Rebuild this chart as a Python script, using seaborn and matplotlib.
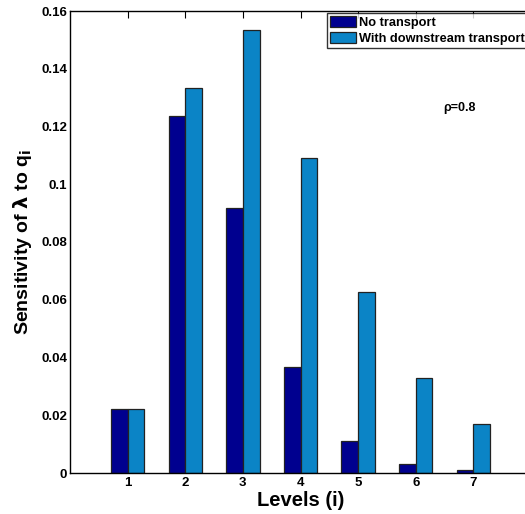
import matplotlib
matplotlib.use("Agg")
import matplotlib.pyplot as plt
import seaborn as sns
import pandas as pd

levels = ["1", "2", "3", "4", "5", "6", "7"]
no_transport = [0.0221, 0.1235, 0.0919, 0.0368, 0.0110, 0.0030, 0.0009]
with_transport = [0.0221, 0.1334, 0.1535, 0.1090, 0.0627, 0.0330, 0.0169]
series_names = ["No transport", "With downstream transport"]
colors = ["#00008F", "#0B84C6"]

df = pd.DataFrame({
    "level": levels * 2,
    "value": no_transport + with_transport,
    "series": [series_names[0]] * len(levels) + [series_names[1]] * len(levels),
})

sns.set_style("white")
plt.rcParams["font.family"] = ["Liberation Sans", "DejaVu Sans"]
plt.rcParams["text.color"] = "black"
plt.rcParams["axes.labelcolor"] = "black"

fig = plt.figure(figsize=(5.25, 5.14), dpi=100)
ax = fig.add_axes([70 / 525, 1 - 473 / 514, 461 / 525, 462 / 514])

sns.barplot(data=df, x="level", y="value", hue="series", order=levels,
            hue_order=series_names, palette=colors, width=0.58,
            edgecolor="#222222", linewidth=0.9, saturation=1, ax=ax)

ax.set_xlim(-1, 7)
ax.set_ylim(0, 0.16)
ax.set_yticks([0, 0.02, 0.04, 0.06, 0.08, 0.1, 0.12, 0.14, 0.16])
ax.set_yticklabels(["0", "0.02", "0.04", "0.06", "0.08", "0.1", "0.12", "0.14", "0.16"])
ax.tick_params(axis="both", direction="in", length=5, width=0.8, top=True, right=False,
               labelsize=9.5, colors="black", pad=3)
ax.tick_params(axis="y", pad=2)
for lbl in ax.get_xticklabels() + ax.get_yticklabels():
    lbl.set_fontweight("bold")
for s in ax.spines.values():
    s.set_visible(True)
    s.set_color("black")
    s.set_linewidth(1.0)

ax.set_xlabel("Levels (i)", fontsize=14.5, fontweight="bold", labelpad=1, color="black")
ax.set_ylabel(r"Sensitivity of $\mathbf{\lambda}$ to q$_\mathbf{i}$", fontsize=14,
              fontweight="bold", labelpad=5, color="black")

ax.text(0.809, 0.79, "ρ=0.8", transform=ax.transAxes, fontsize=9,
        fontweight="bold", ha="left", va="center", color="black")

leg = ax.legend(loc="upper right", bbox_to_anchor=(1.006, 0.975),
                bbox_transform=fig.transFigure, frameon=True,
                fancybox=False, edgecolor="black", fontsize=9.2, borderpad=0.25,
                handlelength=2.0, handleheight=1.0, handletextpad=0.25,
                labelspacing=0.2, borderaxespad=0.0)
leg.get_frame().set_linewidth(1.0)
for t in leg.get_texts():
    t.set_fontweight("bold")
    t.set_color("black")

fig.savefig("out.png", dpi=100)
